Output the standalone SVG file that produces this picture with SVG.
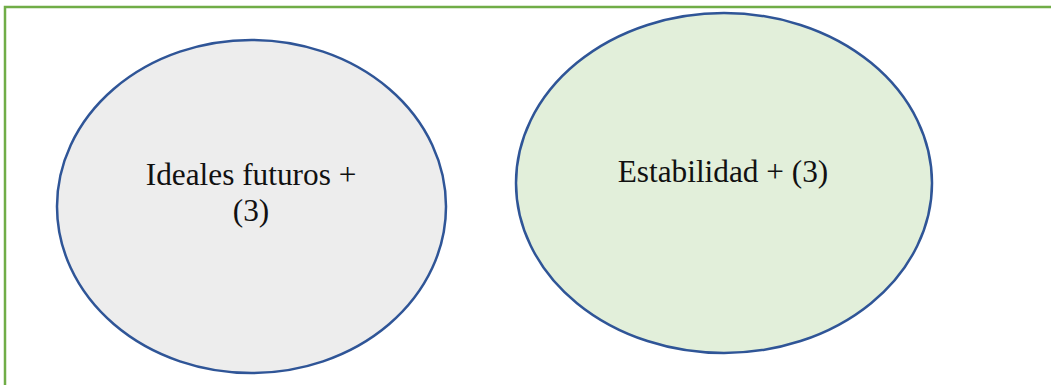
<svg xmlns="http://www.w3.org/2000/svg" width="1051" height="385" viewBox="0 0 1051 385">
  <style>
    .frame { fill: #ffffff; stroke: #70ad47; stroke-width: 2.5; }
    .node { stroke: #2f5597; stroke-width: 2.5; }
    .label { font-family: "Liberation Serif", "Times New Roman", serif; font-size: 31.3px; fill: #111111; text-anchor: middle; }
  </style>
  <rect width="1051" height="385" fill="#ffffff"/>
  <!-- outer frame: open at right and bottom edges -->
  <rect class="frame" x="5" y="7" width="1060" height="400"/>
  <g id="ideales">
    <ellipse class="node" cx="251.5" cy="206.5" rx="194.5" ry="166.5" fill="#ededed"/>
    <text class="label" x="251" y="185">Ideales futuros +</text>
    <text class="label" x="251" y="221">(3)</text>
  </g>
  <g id="estabilidad">
    <ellipse class="node" cx="724" cy="183" rx="208" ry="170" fill="#e2efda"/>
    <text class="label" x="723" y="182">Estabilidad + (3)</text>
  </g>
  <g id="connectors"></g>
</svg>
